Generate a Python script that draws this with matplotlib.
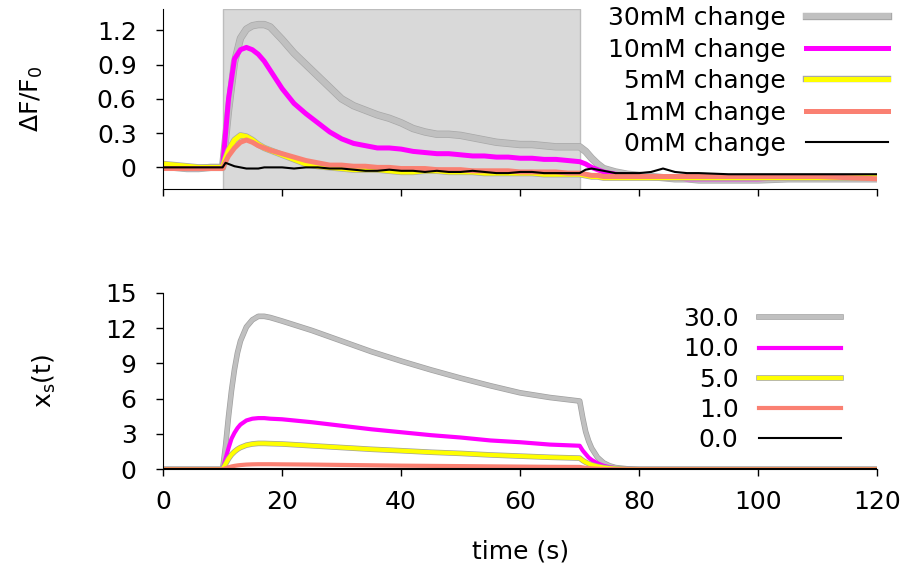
import matplotlib
matplotlib.use("Agg")
import matplotlib.pyplot as plt
import matplotlib.patheffects as pe

plt.rcParams["font.family"] = ["DejaVu Sans"]
plt.rcParams["font.size"] = 18

# Measured fluorescence change (top panel)
t_obs = [0, 2, 4, 6, 8, 10, 10.5, 11, 12, 13, 14, 15, 16, 17, 18, 20, 22, 24, 26, 28,
         30, 32, 34, 36, 38, 40, 42, 44, 46, 48, 50, 52, 54, 56, 58, 60, 62, 64, 66, 68,
         70, 71, 72, 73, 74, 76, 78, 80, 82, 84, 86, 88, 90, 95, 100, 105, 110, 115, 120]

df_30 = [0.01, 0.0, -0.01, -0.01, 0.0, 0.0, 0.25, 0.5, 0.92, 1.13, 1.21, 1.24, 1.25, 1.25, 1.23,
         1.12, 1.0, 0.9, 0.8, 0.7, 0.6, 0.54, 0.5, 0.46, 0.43, 0.39, 0.34, 0.31, 0.29, 0.29,
         0.28, 0.26, 0.24, 0.22, 0.21, 0.2, 0.2, 0.19, 0.18, 0.18, 0.18, 0.14, 0.08, 0.03, -0.01,
         -0.04, -0.06, -0.07, -0.08, -0.09, -0.1, -0.1, -0.11, -0.11, -0.11, -0.1, -0.1, -0.1, -0.1]
df_10 = [0.0, 0.0, -0.01, -0.01, 0.0, 0.0, 0.3, 0.6, 0.95, 1.03, 1.05, 1.03, 0.99, 0.93, 0.85,
         0.69, 0.56, 0.47, 0.39, 0.31, 0.25, 0.21, 0.19, 0.17, 0.17, 0.16, 0.14, 0.13, 0.12, 0.12,
         0.11, 0.1, 0.1, 0.09, 0.09, 0.08, 0.08, 0.07, 0.07, 0.06, 0.05, 0.03, 0.0, -0.02, -0.04,
         -0.06, -0.07, -0.08, -0.08, -0.09, -0.09, -0.1, -0.1, -0.1, -0.1, -0.09, -0.09, -0.08, -0.08]
df_5 = [0.03, 0.02, 0.01, 0.0, 0.0, 0.0, 0.08, 0.15, 0.24, 0.28, 0.27, 0.24, 0.2, 0.17, 0.15,
        0.11, 0.07, 0.03, 0.01, 0.0, -0.01, -0.02, -0.02, -0.02, -0.03, -0.04, -0.04, -0.03, -0.03, -0.04,
        -0.04, -0.04, -0.05, -0.05, -0.05, -0.05, -0.05, -0.06, -0.06, -0.06, -0.06, -0.07, -0.08, -0.08, -0.09,
        -0.09, -0.09, -0.09, -0.09, -0.09, -0.09, -0.09, -0.09, -0.09, -0.09, -0.09, -0.09, -0.09, -0.09]
df_1 = [-0.01, -0.01, -0.01, -0.01, -0.01, -0.01, 0.05, 0.1, 0.17, 0.22, 0.24, 0.22, 0.19, 0.17, 0.15,
        0.12, 0.09, 0.06, 0.04, 0.02, 0.02, 0.01, 0.01, 0.0, 0.0, -0.01, -0.01, -0.01, -0.02, -0.02,
        -0.02, -0.03, -0.03, -0.03, -0.03, -0.04, -0.04, -0.04, -0.04, -0.05, -0.05, -0.06, -0.07, -0.07, -0.08,
        -0.08, -0.08, -0.08, -0.08, -0.08, -0.08, -0.08, -0.08, -0.08, -0.08, -0.08, -0.08, -0.09, -0.1]
df_0 = [0.0, 0.0, 0.0, 0.0, 0.0, 0.0, 0.04, 0.03, 0.01, 0.0, -0.01, -0.01, -0.01, 0.0, 0.0,
        0.0, -0.01, 0.0, 0.0, -0.01, -0.01, -0.02, -0.03, -0.03, -0.02, -0.03, -0.03, -0.04, -0.03, -0.04,
        -0.04, -0.03, -0.04, -0.05, -0.05, -0.04, -0.04, -0.05, -0.05, -0.05, -0.05, -0.02, -0.01, -0.02, -0.03,
        -0.05, -0.05, -0.05, -0.04, -0.01, -0.04, -0.05, -0.05, -0.06, -0.06, -0.06, -0.06, -0.06, -0.06]

# Model state x_s(t) (bottom panel)
t_mod = [0, 10, 10.5, 11, 11.5, 12, 12.5, 13, 14, 15, 16, 17, 18, 20, 25, 30, 35, 40, 45, 50,
         55, 60, 65, 70, 70.5, 71, 71.5, 72, 73, 74, 75, 76, 78, 80, 90, 100, 110, 120]

xs_30 = [0, 0, 2.0, 4.5, 6.7, 8.5, 9.9, 10.9, 12.1, 12.7, 13.0, 13.0, 12.9, 12.6, 11.8, 10.9, 10.0,
         9.2, 8.45, 7.75, 7.1, 6.5, 6.1, 5.8, 4.4, 3.2, 2.4, 1.8, 1.0, 0.55, 0.3, 0.15, 0.04, 0, 0, 0, 0, 0]
xs_10 = [0, 0, 0.9, 1.8, 2.6, 3.1, 3.5, 3.8, 4.15, 4.3, 4.35, 4.35, 4.3, 4.25, 4.0, 3.7, 3.4,
         3.15, 2.9, 2.7, 2.45, 2.3, 2.1, 2.0, 1.6, 1.3, 1.0, 0.8, 0.5, 0.3, 0.18, 0.1, 0.03, 0, 0, 0, 0, 0]
xs_5 = [0, 0, 0.45, 0.9, 1.25, 1.5, 1.7, 1.85, 2.05, 2.15, 2.2, 2.2, 2.18, 2.15, 2.0, 1.85, 1.7,
        1.58, 1.45, 1.35, 1.22, 1.12, 1.02, 0.95, 0.75, 0.6, 0.48, 0.38, 0.24, 0.15, 0.09, 0.05, 0.02, 0, 0, 0, 0, 0]
xs_1 = [0, 0, 0.09, 0.17, 0.24, 0.29, 0.33, 0.36, 0.4, 0.42, 0.43, 0.43, 0.43, 0.42, 0.4, 0.37, 0.34,
        0.31, 0.29, 0.27, 0.25, 0.23, 0.21, 0.2, 0.16, 0.12, 0.1, 0.08, 0.05, 0.03, 0.02, 0.01, 0, 0, 0, 0, 0, 0]
xs_0 = [0] * len(t_mod)

top_labels = ["30mM change", "10mM change", "5mM change", "1mM change", "0mM change"]
bot_labels = ["30.0", "10.0", "5.0", "1.0", "0.0"]
colors = ["#c0c0c0", "#ff00ff", "#ffff00", "#fa8072", "black"]
outline = [True, False, True, False, False]

fig = plt.figure(figsize=(9.11, 5.73), dpi=100)
ax1 = fig.add_axes([0.179, 0.670, 0.784, 0.314])
ax2 = fig.add_axes([0.179, 0.181, 0.784, 0.308])


def style_axis(ax):
    for side in ("top", "right"):
        ax.spines[side].set_visible(False)
    ax.tick_params(direction="out", length=5, width=1, labelsize=18)
    ax.tick_params(axis="y", pad=14)
    ax.tick_params(axis="x", pad=10)
    ax.set_xlim(0, 120)
    ax.set_xticks([0, 20, 40, 60, 80, 100, 120])


# top: stimulus window + recordings
ax1.axvspan(10, 70, facecolor="#d9d9d9", edgecolor="#bdbdbd", lw=1, zorder=0)
top_widths = [4.3, 3.6, 3.6, 3.6, 1.5]
for y, lab, c, lw, o in zip([df_30, df_10, df_5, df_1, df_0], top_labels, colors, top_widths, outline):
    effects = [pe.Stroke(linewidth=lw + 1, foreground="#a8a8a8"), pe.Normal()] if o else None
    ax1.plot(t_obs, y, color=c, lw=lw, label=lab, path_effects=effects, solid_joinstyle="round")
ax1.set_ylim(-0.19, 1.385)
ax1.set_yticks([0, 0.3, 0.6, 0.9, 1.2])
ax1.set_yticklabels(["0", "0.3", "0.6", "0.9", "1.2"])
style_axis(ax1)
ax1.set_xticklabels([])
ax1.set_ylabel("ΔF/F$_\\mathregular{0}$", fontsize=18)
ax1.yaxis.set_label_coords(-0.165, 0.5)
ax1.legend(loc="upper right", bbox_to_anchor=(888 / 911, 0.9895), bbox_transform=fig.transFigure,
           frameon=False, markerfirst=False, handlelength=3.3, handletextpad=0.8,
           labelspacing=0.3, borderpad=0, borderaxespad=0, fontsize=18)

# bottom: model traces
bot_widths = [3.0, 3.0, 3.0, 3.0, 1.5]
for y, lab, c, lw, o in zip([xs_30, xs_10, xs_5, xs_1, xs_0], bot_labels, colors, bot_widths, outline):
    effects = [pe.Stroke(linewidth=lw + 1, foreground="#a0a0a0"), pe.Normal()] if o else None
    ax2.plot(t_mod, y, color=c, lw=lw, label=lab, path_effects=effects, solid_joinstyle="round")
ax2.set_ylim(0, 15)
ax2.set_yticks([0, 3, 6, 9, 12, 15])
style_axis(ax2)
ax2.set_ylabel("x$_\\mathregular{s}$(t)", fontsize=18)
ax2.yaxis.set_label_coords(-0.147, 0.5)
ax2.set_xlabel("time (s)", fontsize=18)
ax2.xaxis.set_label_coords(0.5, -0.40)
ax2.legend(loc="upper right", bbox_to_anchor=(841 / 911, 0.4642), bbox_transform=fig.transFigure,
           frameon=False, markerfirst=False, handlelength=3.3, handletextpad=0.8,
           labelspacing=0.25, borderpad=0, borderaxespad=0, fontsize=18)

fig.savefig("out.png", dpi=100)
